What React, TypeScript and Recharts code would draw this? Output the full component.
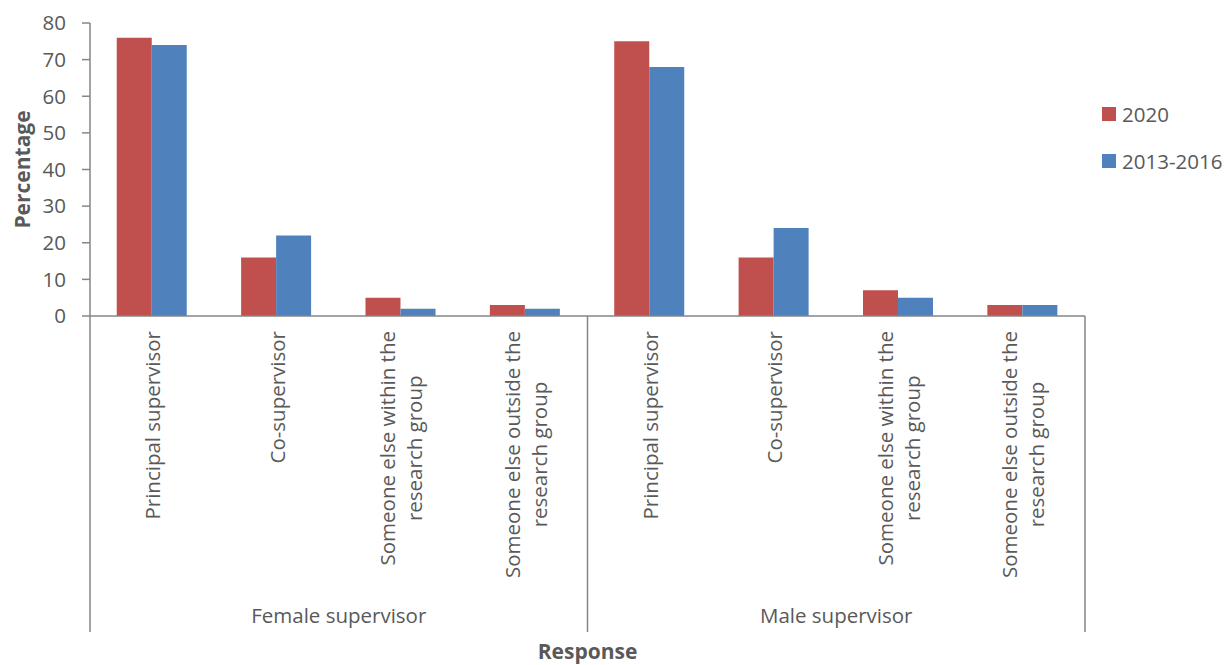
import { BarChart, Bar, XAxis, YAxis, Legend, Label } from 'recharts';

const groups = ['Female supervisor', 'Male supervisor'];
const responses = [
  'Principal supervisor',
  'Co-supervisor',
  'Someone else within the\nresearch group',
  'Someone else outside the\nresearch group',
];
const values2020 = [76, 16, 5, 3, 75, 16, 7, 3];
const values2013 = [74, 22, 2, 2, 68, 24, 5, 3];
const seriesNames = ['2020', '2013-2016'];
const seriesColors = ['#C0504D', '#4F81BD'];
const yTicks = [0, 10, 20, 30, 40, 50, 60, 70, 80];

const data = groups.flatMap((g, gi) =>
  responses.map((r, ri) => ({
    key: `${gi}-${ri}`,
    group: g,
    response: r,
    y2020: values2020[gi * responses.length + ri],
    y2013: values2013[gi * responses.length + ri],
  }))
);

const W = 1228;
const H = 665;
const PLOT_L = 90;
const PLOT_R = 1085;
const PLOT_T = 23;
const PLOT_B = 316;
const Y_W = 60;
const FONT = '"Open Sans", Lato, sans-serif';
const TEXT = '#595959';
const AXIS = '#868686';
const CAT_SIZE = 20.5;

let ctx: CanvasRenderingContext2D | null = null;
function textWidth(s: string, font: string) {
  if (!ctx) ctx = document.createElement('canvas').getContext('2d');
  if (!ctx) return s.length * 10;
  ctx.font = font;
  return ctx.measureText(s).width;
}

function CategoryTick(props: any) {
  const { x, y, index } = props;
  const d = data[index];
  if (!d) return null;
  const band = (PLOT_R - PLOT_L) / data.length;
  const lines = d.response.split('\n');
  const maxW = Math.max(...lines.map((l) => textWidth(l, `${CAT_SIZE}px "Open Sans"`)));
  const cy = y + 15 + maxW / 2;
  const lineH = 27;
  const first = index === 0 || data[index - 1].group !== d.group;
  const last = index === data.length - 1;
  const groupSize = data.filter((e) => e.group === d.group).length;
  return (
    <g>
      {lines.map((l, i) => {
        const lx = x + (i - (lines.length - 1) / 2) * lineH;
        return (
          <text
            key={i}
            x={lx}
            y={cy}
            transform={`rotate(-90 ${lx} ${cy})`}
            textAnchor="middle"
            dominantBaseline="central"
            fontFamily={FONT}
            fontSize={CAT_SIZE}
            fill={TEXT}
          >
            {l}
          </text>
        );
      })}
      {first && <line x1={x - band / 2} x2={x - band / 2} y1={y} y2={y + 316} stroke={AXIS} strokeWidth={1.5} />}
      {last && <line x1={x + band / 2} x2={x + band / 2} y1={y} y2={y + 316} stroke={AXIS} strokeWidth={1.5} />}
      {first && (
        <text
          x={x - band / 2 + (band * groupSize) / 2}
          y={y + 307}
          textAnchor="middle"
          fontFamily={FONT}
          fontSize={CAT_SIZE}
          fill={TEXT}
        >
          {d.group}
        </text>
      )}
    </g>
  );
}

function LegendBox() {
  return (
    <div style={{ fontFamily: FONT, fontSize: 20.5, color: TEXT, lineHeight: '20px' }}>
      {seriesNames.map((n, i) => (
        <div key={n} style={{ display: 'flex', alignItems: 'center', height: 47 }}>
          <span style={{ width: 14, height: 14, background: seriesColors[i], marginRight: 6, display: 'inline-block' }} />
          <span>{n}</span>
        </div>
      ))}
    </div>
  );
}

export default function App() {
  return (
    <div style={{ position: 'absolute', left: 0, top: 0, background: '#fff' }}>
      <BarChart
        width={W}
        height={H}
        data={data}
        margin={{ top: PLOT_T, right: W - PLOT_R, bottom: 0, left: PLOT_L - Y_W }}
        barCategoryGap="21.5%"
        barGap={0}
      >
        <XAxis
          dataKey="key"
          height={H - PLOT_B}
          interval={0}
          tickSize={0}
          tickMargin={0}
          tickLine={false}
          axisLine={{ stroke: AXIS, strokeWidth: 1.5 }}
          tick={<CategoryTick />}
        >
          <Label
            content={(p: any) => {
              const vb = p.viewBox;
              return (
                <text
                  x={vb.x + vb.width / 2}
                  y={vb.y + vb.height - 6}
                  textAnchor="middle"
                  fontFamily={FONT}
                  fontWeight="bold"
                  fontSize={21}
                  fill={TEXT}
                >
                  Response
                </text>
              );
            }}
          />
        </XAxis>
        <YAxis
          width={Y_W}
          domain={[0, 80]}
          ticks={yTicks}
          interval={0}
          tickSize={8}
          tickMargin={16}
          axisLine={{ stroke: AXIS, strokeWidth: 1.5 }}
          tickLine={{ stroke: AXIS, strokeWidth: 1.5 }}
          tick={{ fontFamily: FONT, fontSize: 20.5, fill: TEXT }}
        >
          <Label
            content={(p: any) => {
              const vb = p.viewBox;
              const cx = 22;
              const cy = vb.y + vb.height / 2;
              return (
                <text
                  x={cx}
                  y={cy}
                  transform={`rotate(-90 ${cx} ${cy})`}
                  textAnchor="middle"
                  dominantBaseline="central"
                  fontFamily={FONT}
                  fontWeight="bold"
                  fontSize={21}
                  fill={TEXT}
                >
                  Percentage
                </text>
              );
            }}
          />
        </YAxis>
        <Legend
          layout="horizontal"
          verticalAlign="middle"
          align="center"
          wrapperStyle={{ left: 1102, top: 90, width: 126, height: 100 }}
          content={() => <LegendBox />}
        />
        <Bar dataKey="y2020" name={seriesNames[0]} fill={seriesColors[0]} isAnimationActive={false} />
        <Bar dataKey="y2013" name={seriesNames[1]} fill={seriesColors[1]} isAnimationActive={false} />
      </BarChart>
    </div>
  );
}
